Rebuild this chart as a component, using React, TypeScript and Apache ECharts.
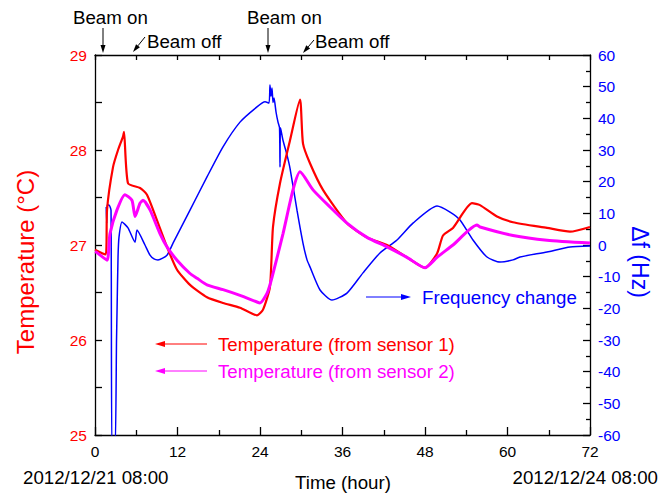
import React, { useEffect, useRef } from 'react';
import * as echarts from 'echarts';

const FONT = 'Liberation Sans, Arial, sans-serif';

// Sensor 1 temperature (hour, °C)
const hours1 = [0, 1.53, 1.67, 1.75, 2.62, 3.35, 4.07, 4.22, 4.8, 6.55, 7.56, 9.02, 10.47, 11.93, 13.82, 16.29, 18.62, 21.09, 23.56, 24.44, 25.45, 25.89, 26.91, 28.36, 29.82, 30.25, 31.27, 33.16, 36.65, 39.56, 42.47, 45.38, 48.0, 49.75, 50.62, 52.07, 54.84, 56.0, 58.47, 60.8, 65.75, 69.09, 72];
const temp1 = [26.95, 26.9, 27.0, 27.37, 27.82, 28.0, 28.14, 28.19, 27.65, 27.6, 27.53, 27.26, 26.98, 26.74, 26.58, 26.45, 26.39, 26.34, 26.26, 26.32, 26.56, 27.19, 27.65, 28.1, 28.53, 28.07, 27.86, 27.58, 27.23, 27.08, 27.0, 26.87, 26.76, 26.91, 27.1, 27.18, 27.44, 27.42, 27.3, 27.24, 27.18, 27.14, 27.19];

// Sensor 2 temperature (hour, °C)
const hours2 = [0, 0.29, 1.75, 2.18, 3.2, 4.36, 5.38, 5.82, 6.55, 6.98, 8.0, 9.45, 10.47, 11.93, 13.82, 14.84, 16.29, 18.62, 21.09, 23.56, 24.0, 25.02, 25.75, 27.35, 28.8, 29.82, 31.71, 34.18, 36.65, 39.56, 42.47, 45.38, 48.0, 49.75, 52.07, 55.56, 56.0, 60.8, 65.75, 72];
const temp2 = [26.93, 26.92, 26.84, 27.12, 27.37, 27.53, 27.47, 27.3, 27.44, 27.47, 27.37, 27.12, 26.98, 26.84, 26.7, 26.65, 26.58, 26.53, 26.47, 26.4, 26.39, 26.49, 26.66, 27.12, 27.58, 27.77, 27.58, 27.4, 27.23, 27.08, 26.98, 26.87, 26.76, 26.87, 27.0, 27.21, 27.19, 27.1, 27.05, 27.02];

// Frequency change (hour, Hz)
const hours3 = [1.63, 1.7, 1.75, 2.04, 2.33, 2.47, 2.91, 3.13, 3.2, 3.35, 3.49, 3.93, 4.8, 5.82, 6.11, 7.27, 8.0, 8.58, 9.16, 10.47, 11.35, 13.82, 16.29, 18.62, 21.09, 23.56, 24.73, 25.31, 25.45, 25.6, 25.75, 25.89, 26.04, 26.33, 26.62, 26.84, 26.91, 26.98, 27.35, 27.93, 28.36, 29.38, 30.25, 30.84, 31.27, 32.73, 34.47, 36.65, 38.98, 41.45, 43.93, 46.25, 49.75, 51.64, 53.09, 54.98, 57.02, 58.91, 60.8, 61.82, 65.75, 69.09, 72];
const freq = [12, 6.9, 12.6, 12.6, 11, -65, -65, -30, -21.5, -3.8, 2.5, 7.3, 5.4, 0.9, 4.7, 0, -3.2, -4.4, -4.7, -3.2, 0.6, 11, 21.5, 31, 38.8, 43.6, 45.2, 44.8, 50.5, 47, 49.6, 45, 46.4, 42, 38.8, 37, 24.6, 37, 33, 28.4, 24.3, 11, 0.6, -4.7, -6.9, -14.2, -17.4, -15.2, -8.8, -2.5, 1.6, 6.9, 12.3, 10.4, 7.9, 1.6, -3.8, -5.4, -4.7, -3.8, -2.2, -0.6, -0.3];

const xMin = 0, xMax = 72, xStep = 12;
const tMin = 25, tMax = 29;
const fMin = -60, fMax = 60, fStep = 10;

const RED = '#ff0000';
const MAG = '#ff00ff';
const BLUE = '#0000ff';

function arrow(x1: number, y1: number, x2: number, y2: number, color: string, L = 8, w = 2.5, lw = 1) {
  const dx = x2 - x1, dy = y2 - y1;
  const len = Math.sqrt(dx * dx + dy * dy);
  const ux = dx / len, uy = dy / len;
  const bx = x2 - ux * L, by = y2 - uy * L;
  const px = -uy, py = ux;
  return [
    { type: 'line', shape: { x1, y1, x2: bx, y2: by }, style: { stroke: color, lineWidth: lw } },
    {
      type: 'polygon',
      shape: { points: [[x2, y2], [bx + px * w, by + py * w], [bx - px * w, by - py * w]] },
      style: { fill: color },
    },
  ];
}

function txt(x: number, y: number, text: string, color: string, size = 18.7, align = 'left', rotation = 0) {
  return {
    type: 'text',
    x,
    y,
    rotation,
    style: { text, fill: color, font: `${size}px ${FONT}`, align, verticalAlign: 'middle' },
  };
}

const axisLine = { show: true, onZero: false, lineStyle: { color: '#000', width: 1.3 } };
const tickStyle = { color: '#000', width: 1.3 };

export default function App() {
  const ref = useRef<HTMLDivElement>(null);
  useEffect(() => {
    document.body.style.margin = '0';
    const chart = echarts.init(ref.current!, null, { renderer: 'svg' });
    const option: any = {
      animation: false,
      backgroundColor: '#fff',
      grid: { left: 95, right: 77, top: 55, bottom: 58 },
      xAxis: [
        {
          type: 'value', min: xMin, max: xMax, interval: xStep, position: 'bottom',
          axisLine, splitLine: { show: false },
          axisTick: { inside: true, length: 8, lineStyle: tickStyle },
          minorTick: { show: true, splitNumber: 2, length: 5, lineStyle: tickStyle },
          axisLabel: { color: '#000', fontSize: 15.5, fontFamily: FONT, margin: 8 },
        },
        {
          type: 'value', min: xMin, max: xMax, interval: xStep / 2, position: 'top',
          axisLine, splitLine: { show: false },
          axisTick: { inside: true, length: 5, lineStyle: tickStyle },
          axisLabel: { show: false },
        },
      ],
      yAxis: [
        {
          type: 'value', min: tMin, max: tMax, interval: 0.5, position: 'left',
          axisLine, splitLine: { show: false },
          axisTick: { inside: true, length: 7, lineStyle: tickStyle },
          axisLabel: {
            color: RED, fontSize: 15.5, fontFamily: FONT, margin: 8,
            formatter: (v: number) => (Number.isInteger(v) ? String(v) : ''),
          },
        },
        {
          type: 'value', min: fMin, max: fMax, interval: fStep, position: 'right',
          axisLine, splitLine: { show: false },
          axisTick: { inside: true, length: 7, lineStyle: tickStyle },
          minorTick: { show: true, splitNumber: 2, length: 4, lineStyle: tickStyle },
          axisLabel: { color: BLUE, fontSize: 15.5, fontFamily: FONT, margin: 8 },
        },
      ],
      series: [
        {
          name: 'Frequency change', type: 'line', xAxisIndex: 0, yAxisIndex: 1,
          data: hours3.map((t, i) => [t, freq[i]]),
          showSymbol: false, smooth: 0.2, lineStyle: { color: BLUE, width: 1.5 }, z: 2,
        },
        {
          name: 'Temperature (from sensor 1)', type: 'line', xAxisIndex: 0, yAxisIndex: 0,
          data: hours1.map((t, i) => [t, temp1[i]]),
          showSymbol: false, smooth: 0.2, lineStyle: { color: RED, width: 2.2 }, z: 3,
        },
        {
          name: 'Temperature (from sensor 2)', type: 'line', xAxisIndex: 0, yAxisIndex: 0,
          data: hours2.map((t, i) => [t, temp2[i]]),
          showSymbol: false, smooth: 0.2, lineStyle: { color: MAG, width: 3 }, z: 4,
        },
      ],
      graphic: [
        txt(73, 17, 'Beam on', '#000'),
        txt(147, 41, 'Beam off', '#000'),
        txt(247, 17, 'Beam on', '#000'),
        txt(315, 41, 'Beam off', '#000'),
        ...arrow(103, 28, 103, 53, '#000'),
        ...arrow(145, 37, 133, 52, '#000'),
        ...arrow(268, 28, 268, 53, '#000'),
        ...arrow(314, 40, 303, 53, '#000'),
        txt(422, 297, 'Frequency change', BLUE),
        ...arrow(366, 297, 411, 297, BLUE, 10, 3),
        txt(218, 344, 'Temperature (from sensor 1)', RED),
        ...arrow(207, 344, 155, 344, RED, 10, 3),
        txt(218, 371, 'Temperature (from sensor 2)', MAG),
        ...arrow(207, 371, 155, 371, MAG, 10, 3),
        txt(23, 477, '2012/12/21 08:00', '#000'),
        txt(658, 477, '2012/12/24 08:00', '#000', 18.7, 'right'),
        txt(343, 482, 'Time (hour)', '#000', 18.7, 'center'),
        txt(25, 262, 'Temperature (°C)', RED, 24, 'center', Math.PI / 2),
        txt(640, 262, 'Δf (Hz)', BLUE, 23, 'center', -Math.PI / 2),
      ],
    };
    chart.setOption(option);
    return () => chart.dispose();
  }, []);
  return <div ref={ref} style={{ width: 667, height: 493 }} />;
}
